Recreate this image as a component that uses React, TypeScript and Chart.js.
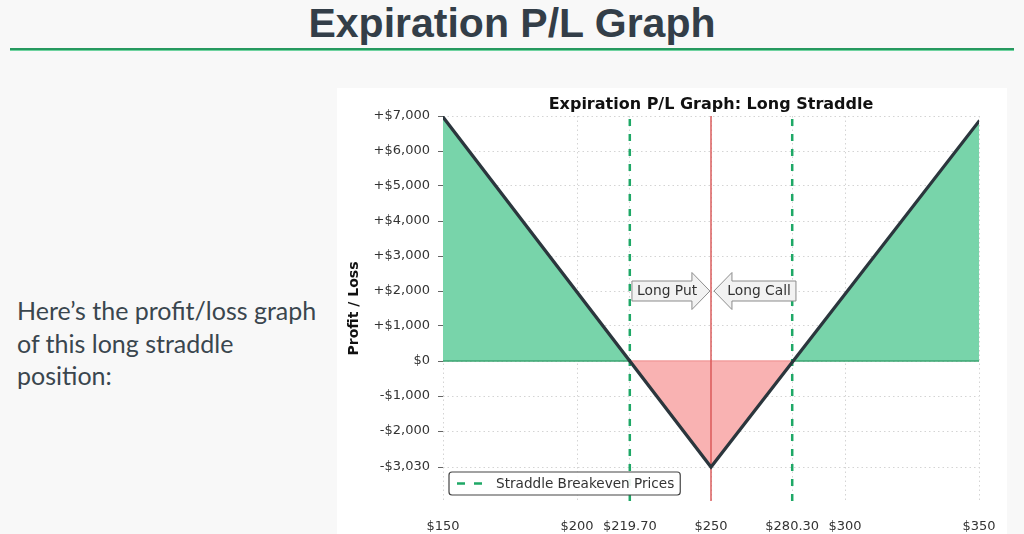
import React, { useEffect, useRef } from 'react';
import { Chart, registerables } from 'chart.js';

Chart.register(...registerables);

// ---- data ----
const PRICES = [150, 250, 350];
const PL = [6970, -3030, 6850];
const STRIKE = 250;
const BREAKEVENS = [219.7, 280.3];
const ZERO_X = [150, 219.7, 280.3, 350];
const X_TICKS = [150, 200, 219.7, 250, 280.3, 300, 350];
const Y_TICKS = [7000, 6000, 5000, 4000, 3000, 2000, 1000, 0, -1000, -2000, -3030];
const X_MIN = 150;
const X_MAX = 350;
const Y_MIN = -4000;
const Y_MAX = 7000;
const ARROW_LABELS = ['Long Put', 'Long Call'];
const ARROW_FROM = [220.5, 281.7];
const ARROW_TO = [249.6, 251.1];
const ARROW_Y = [2000, 2000];
const CHART_TITLE = 'Expiration P/L Graph: Long Straddle';
const Y_TITLE = 'Profit / Loss';
const LEGEND_LABEL = 'Straddle Breakeven Prices';
const SLIDE_TITLE = 'Expiration P/L Graph';
const SLIDE_TEXT = ['Here\u2019s the profit/loss graph', 'of this long straddle', 'position:'];

const FONT = '"DejaVu Sans", sans-serif';

const fmtX = (v: number) => '$' + (Number.isInteger(v) ? String(v) : v.toFixed(2));
const fmtY = (v: number) => {
  if (v === 0) return '$0';
  const s = Math.abs(v).toLocaleString('en-US');
  return (v > 0 ? '+$' : '-$') + s;
};

const decorations = {
  id: 'decorations',
  afterDraw(chart: any) {
    const { ctx, chartArea, scales } = chart;
    const xs = scales.x;
    const ys = scales.y;
    ctx.save();
    // title
    ctx.fillStyle = '#111';
    ctx.font = `bold 16px ${FONT}`;
    ctx.textAlign = 'center';
    ctx.textBaseline = 'middle';
    ctx.fillText(CHART_TITLE, (chartArea.left + chartArea.right) / 2, 16.5);

    // arrows
    const headLen = 18;
    const bodyHalf = 10;
    const headHalf = 18.5;
    ARROW_LABELS.forEach((label, i) => {
      const x1 = xs.getPixelForValue(ARROW_FROM[i]);
      const x2 = xs.getPixelForValue(ARROW_TO[i]);
      const yc = ys.getPixelForValue(ARROW_Y[i]);
      const dir = Math.sign(x2 - x1);
      const xb = x2 - dir * headLen;
      ctx.beginPath();
      ctx.moveTo(x1, yc - bodyHalf);
      ctx.lineTo(xb, yc - bodyHalf);
      ctx.lineTo(xb, yc - headHalf);
      ctx.lineTo(x2, yc);
      ctx.lineTo(xb, yc + headHalf);
      ctx.lineTo(xb, yc + bodyHalf);
      ctx.lineTo(x1, yc + bodyHalf);
      ctx.closePath();
      ctx.fillStyle = '#f2f2f2';
      ctx.fill();
      ctx.strokeStyle = '#8c8c8c';
      ctx.lineWidth = 1;
      ctx.setLineDash([]);
      ctx.stroke();
      ctx.fillStyle = '#333';
      ctx.font = `13.8px ${FONT}`;
      ctx.textAlign = 'center';
      ctx.textBaseline = 'middle';
      ctx.fillText(label, x1 + (x2 - x1) * 0.45, yc + 0.5);
    });

    // legend
    ctx.font = `13.6px ${FONT}`;
    const tw = ctx.measureText(LEGEND_LABEL).width;
    const lx = chartArea.left + 6;
    const lh = 23;
    const ly = chartArea.bottom - 6 - lh;
    const lw = 47 + tw + 6;
    ctx.beginPath();
    const r = 3;
    ctx.moveTo(lx + r, ly);
    ctx.lineTo(lx + lw - r, ly);
    ctx.arcTo(lx + lw, ly, lx + lw, ly + r, r);
    ctx.lineTo(lx + lw, ly + lh - r);
    ctx.arcTo(lx + lw, ly + lh, lx + lw - r, ly + lh, r);
    ctx.lineTo(lx + r, ly + lh);
    ctx.arcTo(lx, ly + lh, lx, ly + lh - r, r);
    ctx.lineTo(lx, ly + r);
    ctx.arcTo(lx, ly, lx + r, ly, r);
    ctx.closePath();
    ctx.fillStyle = 'rgba(255,255,255,0.9)';
    ctx.fill();
    ctx.strokeStyle = '#444';
    ctx.lineWidth = 1.2;
    ctx.stroke();
    ctx.beginPath();
    ctx.setLineDash([8, 9]);
    ctx.strokeStyle = '#1ea866';
    ctx.lineWidth = 2.5;
    ctx.moveTo(lx + 8, ly + lh / 2);
    ctx.lineTo(lx + 33, ly + lh / 2);
    ctx.stroke();
    ctx.setLineDash([]);
    ctx.fillStyle = '#333';
    ctx.textAlign = 'left';
    ctx.textBaseline = 'middle';
    ctx.fillText(LEGEND_LABEL, lx + 47, ly + lh / 2 + 0.5);
    ctx.restore();
  },
};

function PLChart() {
  const ref = useRef<HTMLCanvasElement | null>(null);
  useEffect(() => {
    if (!ref.current) return;
    const lo = BREAKEVENS[0];
    const hi = BREAKEVENS[1];
    const datasets: any[] = [
      {
        label: 'P/L',
        data: PRICES.map((x, i) => ({ x, y: PL[i] })),
        borderColor: '#2b363d',
        borderWidth: 3.2,
        pointRadius: 0,
        tension: 0,
        borderCapStyle: 'round',
        fill: { target: 'origin', above: '#78d4aa', below: '#f9b2b2' },
        order: 0,
      },
      {
        label: 'zero',
        data: ZERO_X.map((x) => ({ x, y: 0 })),
        borderWidth: 1.5,
        pointRadius: 0,
        fill: false,
        segment: {
          borderColor: (c: any) =>
            c.p0.parsed.x >= lo && c.p1.parsed.x <= hi ? '#f29c9c' : '#3aa571',
        },
        borderColor: '#3aa571',
        order: 3,
      },
      {
        label: 'strike',
        data: [{ x: STRIKE, y: Y_MIN }, { x: STRIKE, y: Y_MAX }],
        borderColor: '#d95252',
        borderWidth: 1.4,
        pointRadius: 0,
        fill: false,
        order: 1,
      },
      ...BREAKEVENS.map((b) => ({
        label: LEGEND_LABEL,
        data: [{ x: b, y: Y_MIN }, { x: b, y: Y_MAX }],
        borderColor: '#1ea866',
        borderWidth: 2.5,
        borderDash: [7, 8],
        pointRadius: 0,
        fill: false,
        order: 1,
      })),
    ];
    const chart = new Chart(ref.current, {
      type: 'line',
      data: { datasets },
      options: {
        animation: false,
        responsive: true,
        maintainAspectRatio: false,
        layout: { padding: { top: 28, right: 28, left: 0, bottom: 0 } },
        plugins: {
          legend: { display: false },
          tooltip: { enabled: false },
          title: { display: false },
          filler: { drawTime: 'beforeDatasetsDraw' },
        } as any,
        scales: {
          x: {
            type: 'linear',
            min: X_MIN,
            max: X_MAX,
            afterBuildTicks: (s: any) => {
              s.ticks = X_TICKS.map((v) => ({ value: v }));
            },
            afterFit: (s: any) => {
              s.height = 33;
              s.paddingLeft = 0;
              s.paddingRight = 0;
            },
            ticks: {
              callback: (v: any) => fmtX(Number(v)),
              font: { family: FONT, size: 13 },
              color: '#333',
              padding: 18,
              maxRotation: 0,
              autoSkip: false,
            },
            grid: { color: '#d4d4d4', lineWidth: 1, drawTicks: false },
            border: { display: false, dash: [1.5, 3] },
          },
          y: {
            type: 'linear',
            min: Y_MIN,
            max: Y_MAX,
            afterBuildTicks: (s: any) => {
              s.ticks = Y_TICKS.map((v) => ({ value: v }));
            },
            afterFit: (s: any) => {
              s.width = 106;
            },
            ticks: {
              callback: (v: any) => fmtY(Number(v)),
              font: { family: FONT, size: 13 },
              color: '#333',
              padding: 8,
              autoSkip: false,
            },
            grid: {
              color: '#d4d4d4',
              lineWidth: 1,
              drawTicks: true,
              tickLength: 5,
              tickColor: '#666',
              tickBorderDash: [],
            },
            border: { display: false, dash: [1.5, 3] },
            title: {
              display: true,
              text: Y_TITLE,
              font: { family: FONT, size: 14, weight: 'bold' },
              color: '#111',
              padding: { top: 9, bottom: 0 },
            },
          },
        } as any,
      },
      plugins: [decorations],
    });
    return () => chart.destroy();
  }, []);
  return (
    <div style={{ position: 'relative', width: 670, height: 446 }}>
      <canvas ref={ref} />
    </div>
  );
}

export default function App() {
  return (
    <div
      style={{
        position: 'absolute',
        left: 0,
        top: 0,
        width: 1024,
        height: 534,
        overflow: 'hidden',
        background: '#f8f8f8',
      }}
    >
      <div
        style={{
          position: 'absolute',
          top: 0,
          left: 0,
          width: 1024,
          textAlign: 'center',
          font: 'bold 41px "Liberation Sans", Arial, sans-serif',
          lineHeight: '46px',
          color: '#333e48',
        }}
      >
        {SLIDE_TITLE}
      </div>
      <div
        style={{
          position: 'absolute',
          top: 48,
          left: 10,
          width: 1004,
          height: 2,
          background: '#26995f',
          borderBottom: '1px solid #6fd3a0',
        }}
      />
      <div
        style={{
          position: 'absolute',
          top: 294,
          left: 17,
          width: 320,
          font: '25px Lato, "Open Sans", sans-serif',
          lineHeight: '32.5px',
          color: '#3a464e',
        }}
      >
        {SLIDE_TEXT.map((t, i) => (
          <div key={i}>{t}</div>
        ))}
      </div>
      <div
        style={{
          position: 'absolute',
          left: 337,
          top: 88,
          width: 670,
          height: 446,
          background: '#ffffff',
        }}
      >
        <PLChart />
      </div>
    </div>
  );
}
